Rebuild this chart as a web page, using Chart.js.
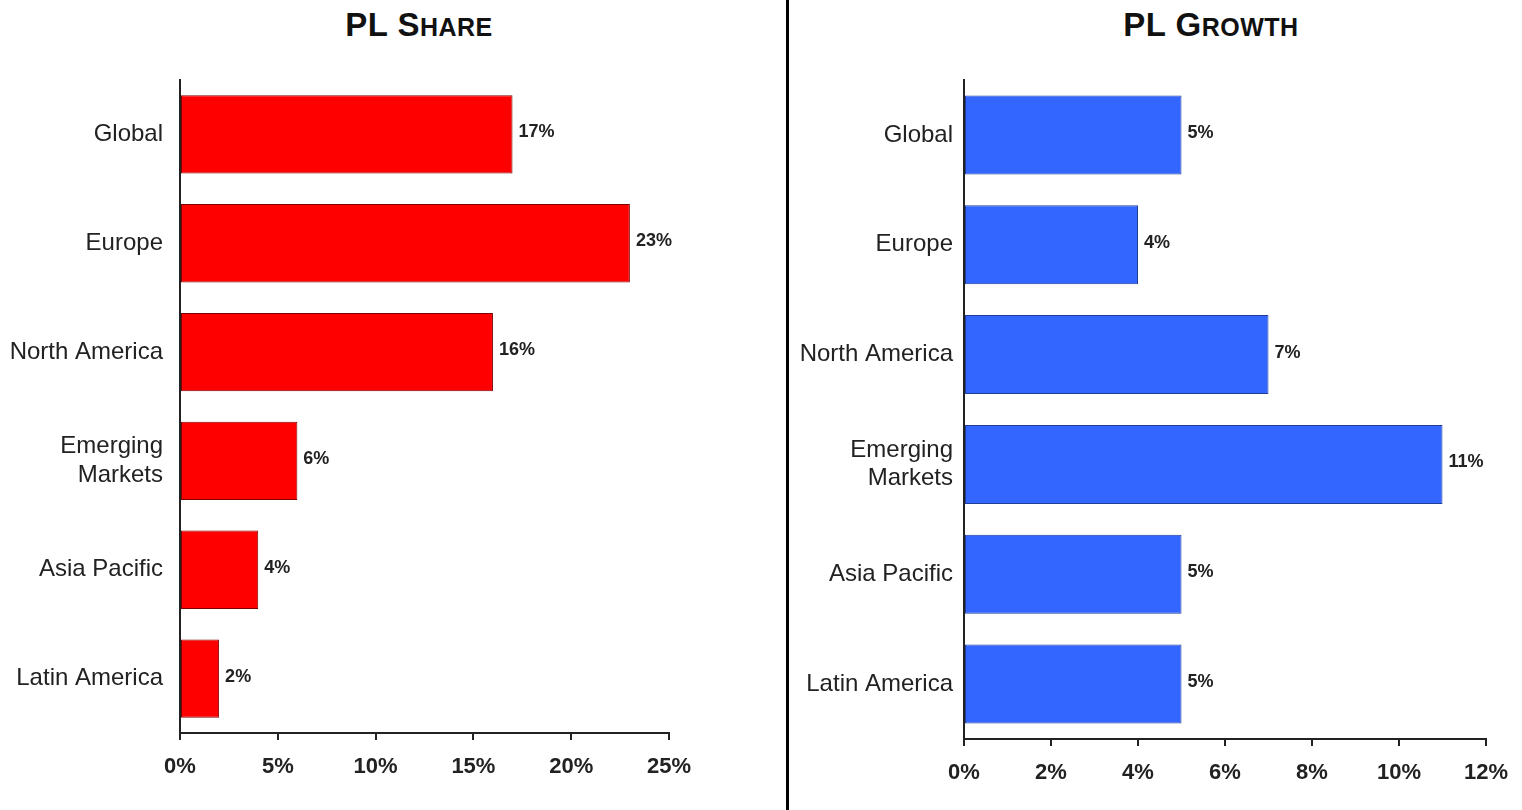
<!DOCTYPE html>
<html>
<head>
<meta charset="utf-8">
<script src="https://cdn.jsdelivr.net/npm/chart.js@4.4.1/dist/chart.umd.min.js"></script>
<style>
  html, body { margin: 0; padding: 0; background: #fff; }
  body { width: 1522px; height: 810px; position: relative; overflow: hidden; font-family: 'Liberation Sans', Arial, sans-serif; }
  .title { position: absolute; top: 6px; font-size: 33px; font-weight: bold; color: #111; white-space: nowrap; transform: translateX(-50%); letter-spacing: 0.5px; }
  .title small { font-size: 25px; }
  .panel { position: absolute; top: 0; height: 810px; }
  #divider { position: absolute; left: 786px; top: 0; width: 3px; height: 810px; background: #000; }
</style>
</head>
<body>
<div class="title" style="left:419px">PL S<small>HARE</small></div>
<div class="title" style="left:1211px">PL G<small>ROWTH</small></div>
<div class="panel" style="left:0;width:785px"><canvas id="share-chart" width="785" height="810"></canvas></div>
<div id="divider"></div>
<div class="panel" style="left:790px;width:732px"><canvas id="growth-chart" width="732" height="810"></canvas></div>
<script>
// === DATA ===
const regions = ['Global', 'Europe', 'North America', ['Emerging', 'Markets'], 'Asia Pacific', 'Latin America'];
const shareValues = [17, 23, 16, 6, 4, 2];
const growthValues = [5, 4, 7, 11, 5, 5];
const shareTicks = [0, 5, 10, 15, 20, 25];
const growthTicks = [0, 2, 4, 6, 8, 10, 12];

const FONT = "'Liberation Sans', Arial, sans-serif";
const AXIS_COLOR = '#222';

// value labels at the end of each bar
const barLabels = {
    id: 'barLabels',
    afterDatasetsDraw(chart) {
        const ctx = chart.ctx;
        const meta = chart.getDatasetMeta(0);
        const values = chart.data.datasets[0].data;
        ctx.save();
        ctx.font = `bold 18px ${FONT}`;
        ctx.fillStyle = '#222';
        ctx.textAlign = 'left';
        ctx.textBaseline = 'middle';
        meta.data.forEach((bar, i) => {
            ctx.fillText(values[i] + '%', bar.x + 6, bar.y - 2);
        });
        ctx.restore();
    }
};

function makeChart(canvasId, values, ticks, opts) {
    const ctx = document.getElementById(canvasId).getContext('2d');
    const max = ticks[ticks.length - 1];
    const step = ticks[1] - ticks[0];
    return new Chart(ctx, {
        type: 'bar',
        data: {
            labels: regions,
            datasets: [{
                data: values,
                backgroundColor: opts.fill,
                borderColor: opts.border,
                borderWidth: 1,
                borderSkipped: false,
                categoryPercentage: 1,
                barPercentage: 0.72
            }]
        },
        options: {
            indexAxis: 'y',
            responsive: false,
            animation: false,
            layout: { padding: { top: 80, right: opts.padRight, bottom: 0, left: 0 } },
            plugins: {
                legend: { display: false },
                tooltip: { enabled: false }
            },
            scales: {
                x: {
                    min: 0,
                    max: max,
                    afterBuildTicks: scale => { scale.ticks = ticks.map(v => ({ value: v })); },
                    afterFit: scale => { scale.height = opts.xHeight; },
                    border: { display: true, color: AXIS_COLOR, width: 2 },
                    grid: { display: true, drawOnChartArea: false, drawTicks: true, tickLength: 7, color: AXIS_COLOR, lineWidth: 2 },
                    ticks: {
                        stepSize: step,
                        padding: 14,
                        color: '#222',
                        font: { family: FONT, size: 22, weight: 'bold' },
                        callback: v => v + '%'
                    }
                },
                y: {
                    afterFit: scale => { scale.width = opts.yWidth; },
                    border: { display: true, color: AXIS_COLOR, width: 2 },
                    grid: { display: false },
                    ticks: {
                        padding: opts.yPad,
                        color: '#222',
                        font: { family: FONT, size: 24, lineHeight: 1.2 }
                    }
                }
            }
        },
        plugins: [barLabels]
    });
}

makeChart('share-chart', shareValues, shareTicks, {
    fill: '#ff0000', border: '#7a0000', padRight: 116, xHeight: 77, yWidth: 180, yPad: 9
});
makeChart('growth-chart', growthValues, growthTicks, {
    fill: '#3366ff', border: '#1f3d99', padRight: 32, xHeight: 71, yWidth: 174, yPad: 3
});
</script>
</body>
</html>
